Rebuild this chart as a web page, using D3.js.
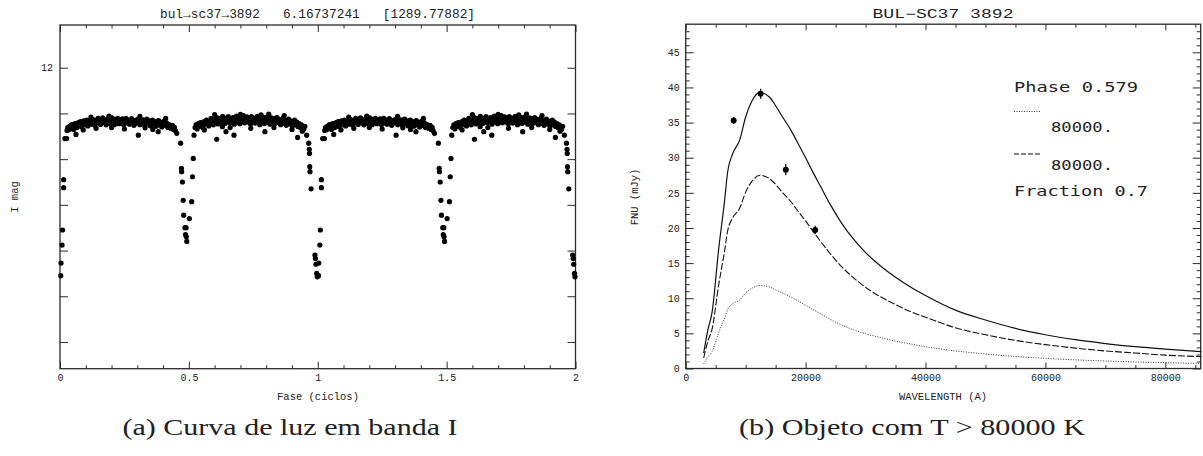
<!DOCTYPE html>
<html><head><meta charset="utf-8">
<script src="https://cdn.jsdelivr.net/npm/d3@7"></script>
<style>
html,body{margin:0;padding:0;background:#fff;}
svg{display:block;}
text{fill:#222;}
</style></head>
<body>
<svg id="c" width="1203" height="456"></svg>
<script>
// ---------- Panel (a): light curve data (one cycle, plotted twice) ----------
const lcTitle = "bul\u2192sc37\u21923892   6.16737241   [1289.77882]";
const lcPhase = [
0.030,0.034,0.038,0.041,0.046,0.050,0.053,0.058,0.062,0.066,0.071,0.074,0.079,0.083,0.087,0.092,0.095,0.100,0.104,0.108,
0.112,0.117,0.121,0.126,0.130,0.134,0.139,0.143,0.148,0.152,0.157,0.161,0.166,0.170,0.175,0.179,0.184,0.188,0.193,0.197,
0.202,0.206,0.211,0.215,0.220,0.224,0.229,0.233,0.238,0.242,0.247,0.251,0.256,0.260,0.265,0.269,0.274,0.278,0.283,0.287,
0.292,0.296,0.301,0.305,0.310,0.314,0.319,0.323,0.328,0.332,0.337,0.341,0.346,0.350,0.355,0.359,0.364,0.368,0.373,0.377,
0.382,0.386,0.391,0.395,0.400,0.404,0.409,0.413,0.418,0.422,0.427,0.431,0.436,0.440,0.444,0.448,
0.026,0.062,0.304,0.381,
0.090,0.140,0.190,0.250,0.310,0.360,0.410,0.200,0.120,0.330,
0.524,0.528,0.532,0.536,0.541,0.545,0.550,0.554,0.559,0.563,0.568,0.572,0.577,0.581,0.586,0.590,0.595,0.599,0.604,0.608,
0.613,0.617,0.622,0.626,0.631,0.635,0.640,0.644,0.649,0.653,0.658,0.662,0.667,0.671,0.676,0.680,0.685,0.689,0.694,0.698,
0.703,0.707,0.712,0.716,0.721,0.725,0.730,0.734,0.739,0.743,0.748,0.752,0.757,0.761,0.766,0.770,0.775,0.779,0.784,0.788,
0.793,0.797,0.802,0.806,0.811,0.815,0.820,0.824,0.829,0.833,0.838,0.842,0.847,0.851,0.856,0.860,0.865,0.869,0.874,0.878,
0.883,0.887,0.892,0.896,0.901,0.905,0.910,0.914,0.919,0.923,0.928,0.932,0.937,0.941,0.946,0.950,
0.608,0.644,0.675,0.795,0.922,
0.560,0.600,0.660,0.700,0.740,0.780,0.830,0.870,0.900,0.940,0.630,0.810,
0.453,0.468,0.471,0.472,0.475,0.478,0.480,0.485,0.489,0.487,0.490,0.492,0.502,0.511,0.514,0.517,0.520,
0.957,0.965,0.967,0.968,0.969,0.970,0.974,0.989,0.991,0.993,0.996,0.998,
0.003,0.004,0.008,0.010,0.014,0.014,0.019,0.027
];
const lcMag = [
12.262,12.271,12.255,12.266,12.249,12.258,12.270,12.244,12.253,12.262,12.240,12.251,12.236,12.258,12.245,12.232,12.249,12.240,12.229,12.255,
12.243,12.233,12.247,12.226,12.238,12.251,12.229,12.242,12.222,12.236,12.248,12.231,12.219,12.240,12.228,12.250,12.233,12.224,12.244,12.230,
12.219,12.238,12.249,12.226,12.236,12.221,12.245,12.230,12.239,12.224,12.250,12.233,12.221,12.241,12.229,12.247,12.236,12.223,12.240,12.252,
12.231,12.242,12.226,12.238,12.249,12.232,12.243,12.228,12.251,12.237,12.225,12.245,12.232,12.254,12.240,12.229,12.247,12.236,12.256,12.243,
12.231,12.250,12.238,12.259,12.245,12.234,12.252,12.241,12.262,12.248,12.256,12.266,12.252,12.270,12.261,12.276,
12.310,12.292,12.295,12.280,
12.272,12.265,12.212,12.268,12.213,12.270,12.222,12.262,12.216,12.263,
12.262,12.250,12.268,12.245,12.256,12.240,12.251,12.262,12.236,12.247,12.229,12.243,12.255,12.233,12.221,12.240,12.250,12.228,12.238,12.218,
12.246,12.232,12.221,12.240,12.213,12.229,12.244,12.222,12.235,12.214,12.241,12.227,12.236,12.218,12.247,12.230,12.212,12.238,12.224,12.245,
12.219,12.233,12.210,12.241,12.226,12.215,12.237,12.222,12.246,12.214,12.231,12.220,12.242,12.226,12.213,12.236,12.249,12.221,12.232,12.217,
12.244,12.228,12.216,12.238,12.225,12.247,12.219,12.234,12.222,12.245,12.230,12.218,12.240,12.227,12.249,12.233,12.221,12.243,12.230,12.252,
12.236,12.225,12.246,12.234,12.255,12.240,12.229,12.250,12.238,12.257,12.244,12.262,12.250,12.258,12.268,12.256,
12.313,12.280,12.295,12.280,12.305,
12.272,12.205,12.262,12.204,12.265,12.206,12.262,12.209,12.270,12.278,12.258,12.203,
12.287,12.330,12.440,12.455,12.500,12.580,12.645,12.700,12.700,12.730,12.740,12.760,12.660,12.586,12.477,12.397,12.295,
12.295,12.330,12.357,12.375,12.433,12.455,12.530,12.820,12.835,12.860,12.900,12.915,
12.910,12.855,12.776,12.710,12.525,12.490,12.310,12.275
];
const lcXTicks = [0, 0.5, 1, 1.5, 2];
const lcXTickLabels = ["0", "0.5", "1", "1.5", "2"];
const lcYTicks = [12.0, 12.2, 12.4, 12.6, 12.8, 13.0, 13.2];
const lcYTickLabels = ["12", "", "", "", "", "", ""];

// ---------- Panel (b): SED data ----------
const sedTitle = "BUL\u2212SC37 3892";
const sedWave = [3000,3700,4400,5500,6500,7000,7800,9000,10000,11000,12400,14000,15000,16000,17500,19000,20000,21000,22500,24000,
26000,28000,30000,32500,35000,37500,40000,45000,50000,55000,60000,65000,70000,75000,80000,86000];
const sedTotal = [2.2,5.5,8.0,17.0,24.0,28.0,30.5,32.5,35.8,38.0,39.3,38.6,37.4,36.0,34.0,31.6,30.0,28.3,25.9,23.5,
20.7,18.4,16.5,14.6,13.0,11.6,10.4,8.3,6.9,5.7,4.8,4.1,3.55,3.1,2.75,2.4];
const sedDashed = [1.5,3.9,5.6,11.9,16.8,19.6,21.4,22.8,25.1,26.6,27.5,27.0,26.2,25.2,23.8,22.1,21.0,19.8,18.1,16.45,
14.5,12.9,11.55,10.2,9.1,8.1,7.3,5.8,4.8,4.0,3.4,2.9,2.5,2.2,1.9,1.7];
const sedDotted = [0.65,1.65,2.4,5.1,7.2,8.4,9.2,9.75,10.75,11.4,11.8,11.6,11.2,10.8,10.2,9.5,9.0,8.5,7.8,7.05,
6.2,5.5,4.95,4.4,3.9,3.5,3.1,2.5,2.07,1.71,1.44,1.23,1.07,0.93,0.83,0.72];
const obsWave = [8000, 12500, 16700, 21600];
const obsFlux = [35.3, 39.1, 28.3, 19.7];
const obsErr  = [0.5, 0.7, 0.8, 0.6];
const sedXTicks = [0, 20000, 40000, 60000, 80000];
const sedYTicks = [0, 5, 10, 15, 20, 25, 30, 35, 40, 45];
const legendLines = ["Phase 0.579", "80000.", "80000.", "Fraction 0.7"];

const captions = ["(a) Curva de luz em banda I", "(b) Objeto com T > 80000 K"];

// ---------- drawing ----------
const svg = d3.select("#c");
const INK = "#2a2a2a";
const tickFont = "'Liberation Mono', monospace";

function styleAxis(g){
  g.select(".domain").remove();
  g.selectAll(".tick line").attr("stroke", INK).attr("stroke-width", 1);
  g.selectAll(".tick text").attr("font-family", tickFont).attr("font-size", 10).attr("fill", "#222");
}

// Panel (a)
const xL = d3.scaleLinear().domain([0, 2]).range([60, 575.5]);
const yL = d3.scaleLinear().domain([11.813, 13.317]).range([25, 368.7]);
const gA = svg.append("g");
const minorL = d3.range(1, 20).map(i => i / 10).filter(v => Math.abs(v*2 - Math.round(v*2)) > 1e-6);

gA.append("g").attr("transform", `translate(0,${yL.range()[1]})`)
  .call(d3.axisBottom(xL).tickValues(lcXTicks).tickSize(-7).tickPadding(5)
    .tickFormat((d, i) => lcXTickLabels[i])).call(styleAxis);
gA.append("g").attr("transform", `translate(0,${yL.range()[1]})`)
  .call(d3.axisBottom(xL).tickValues(minorL).tickSize(-3.5).tickFormat("")).call(styleAxis);
gA.append("g").attr("transform", `translate(0,${yL.range()[0]})`)
  .call(d3.axisTop(xL).tickValues(lcXTicks).tickSize(-7).tickFormat("")).call(styleAxis);
gA.append("g").attr("transform", `translate(0,${yL.range()[0]})`)
  .call(d3.axisTop(xL).tickValues(minorL).tickSize(-3.5).tickFormat("")).call(styleAxis);
gA.append("g").attr("transform", `translate(${xL.range()[0]},0)`)
  .call(d3.axisLeft(yL).tickValues(lcYTicks).tickSize(-8).tickPadding(7)
    .tickFormat((d, i) => lcYTickLabels[i])).call(styleAxis);
gA.append("g").attr("transform", `translate(${xL.range()[1]},0)`)
  .call(d3.axisRight(yL).tickValues(lcYTicks).tickSize(-8).tickFormat("")).call(styleAxis);

gA.append("rect").attr("x", xL.range()[0]).attr("y", yL.range()[0])
  .attr("width", xL.range()[1] - xL.range()[0]).attr("height", yL.range()[1] - yL.range()[0])
  .attr("fill", "none").attr("stroke", INK).attr("stroke-width", 1.3);

const lcPts = [];
lcPhase.forEach((p, i) => { lcPts.push([p, lcMag[i]]); lcPts.push([p + 1, lcMag[i]]); });
gA.append("g").selectAll("circle").data(lcPts).join("circle")
  .attr("cx", d => xL(d[0])).attr("cy", d => yL(d[1])).attr("r", 2.6).attr("fill", "#000");

gA.append("text").attr("x", 317.5).attr("y", 18).attr("text-anchor", "middle")
  .attr("font-family", tickFont).attr("font-size", 12).attr("textLength", 315)
  .attr("lengthAdjust", "spacingAndGlyphs").attr("xml:space", "preserve").text(lcTitle);
gA.append("text").attr("x", 318).attr("y", 400).attr("text-anchor", "middle")
  .attr("font-family", tickFont).attr("font-size", 10.5).text("Fase (ciclos)");
gA.append("text").attr("transform", "translate(18,197) rotate(-90)").attr("text-anchor", "middle")
  .attr("font-family", tickFont).attr("font-size", 10.5).text("I mag");

// Panel (b)
const xR = d3.scaleLinear().domain([0, 85900]).range([685.7, 1200.7]);
const yR = d3.scaleLinear().domain([0, 49]).range([368.5, 24.2]);
const gB = svg.append("g");
const minorXR = d3.range(5000, 86000, 5000).filter(v => v % 20000 !== 0);
const minorYR = d3.range(1, 49).filter(v => v % 5 !== 0);

gB.append("g").attr("transform", `translate(0,${yR.range()[0]})`)
  .call(d3.axisBottom(xR).tickValues(sedXTicks).tickSize(-6).tickPadding(5).tickFormat(d3.format("d"))).call(styleAxis);
gB.append("g").attr("transform", `translate(0,${yR.range()[0]})`)
  .call(d3.axisBottom(xR).tickValues(minorXR).tickSize(-3.5).tickFormat("")).call(styleAxis);
gB.append("g").attr("transform", `translate(0,${yR.range()[1]})`)
  .call(d3.axisTop(xR).tickValues(sedXTicks).tickSize(-6).tickFormat("")).call(styleAxis);
gB.append("g").attr("transform", `translate(0,${yR.range()[1]})`)
  .call(d3.axisTop(xR).tickValues(minorXR).tickSize(-3.5).tickFormat("")).call(styleAxis);
gB.append("g").attr("transform", `translate(${xR.range()[0]},0)`)
  .call(d3.axisLeft(yR).tickValues(sedYTicks).tickSize(-8).tickPadding(6).tickFormat(d3.format("d"))).call(styleAxis);
gB.append("g").attr("transform", `translate(${xR.range()[0]},0)`)
  .call(d3.axisLeft(yR).tickValues(minorYR).tickSize(-4).tickFormat("")).call(styleAxis);
gB.append("g").attr("transform", `translate(${xR.range()[1]},0)`)
  .call(d3.axisRight(yR).tickValues(sedYTicks).tickSize(-8).tickFormat("")).call(styleAxis);
gB.append("g").attr("transform", `translate(${xR.range()[1]},0)`)
  .call(d3.axisRight(yR).tickValues(minorYR).tickSize(-4).tickFormat("")).call(styleAxis);

gB.append("rect").attr("x", xR.range()[0]).attr("y", yR.range()[1])
  .attr("width", xR.range()[1] - xR.range()[0]).attr("height", yR.range()[0] - yR.range()[1])
  .attr("fill", "none").attr("stroke", INK).attr("stroke-width", 1.3);

const line = d3.line().curve(d3.curveMonotoneX).x(d => xR(d[0])).y(d => yR(d[1]));
gB.append("path").datum(sedWave.map((w, i) => [w, sedTotal[i]])).attr("d", line)
  .attr("fill", "none").attr("stroke", "#111").attr("stroke-width", 1.2);
gB.append("path").datum(sedWave.map((w, i) => [w, sedDashed[i]])).attr("d", line)
  .attr("fill", "none").attr("stroke", "#111").attr("stroke-width", 1.1).attr("stroke-dasharray", "7,2");
gB.append("path").datum(sedWave.map((w, i) => [w, sedDotted[i]])).attr("d", line)
  .attr("fill", "none").attr("stroke", "#333").attr("stroke-width", 1).attr("stroke-dasharray", "1,1.5");

const obs = obsWave.map((w, i) => ({w, f: obsFlux[i], e: obsErr[i]}));
gB.append("g").selectAll("line").data(obs).join("line")
  .attr("x1", d => xR(d.w)).attr("x2", d => xR(d.w))
  .attr("y1", d => yR(d.f - d.e)).attr("y2", d => yR(d.f + d.e))
  .attr("stroke", "#000").attr("stroke-width", 1.2);
gB.append("g").selectAll("circle").data(obs).join("circle")
  .attr("cx", d => xR(d.w)).attr("cy", d => yR(d.f)).attr("r", 3).attr("fill", "#000");

// legend
const legFont = "'DejaVu Sans Mono', monospace";
gB.append("text").attr("x", 1014).attr("y", 92).attr("font-family", legFont).attr("font-size", 14)
  .attr("textLength", 124).attr("lengthAdjust", "spacingAndGlyphs").attr("xml:space", "preserve").text(legendLines[0]);
gB.append("line").attr("x1", 1014).attr("x2", 1040).attr("y1", 111.5).attr("y2", 111.5)
  .attr("stroke", "#333").attr("stroke-dasharray", "1,1.5");
gB.append("text").attr("x", 1051).attr("y", 132).attr("font-family", legFont).attr("font-size", 14)
  .attr("textLength", 62).attr("lengthAdjust", "spacingAndGlyphs").text(legendLines[1]);
gB.append("line").attr("x1", 1014).attr("x2", 1040).attr("y1", 154).attr("y2", 154)
  .attr("stroke", "#111").attr("stroke-dasharray", "5,2");
gB.append("text").attr("x", 1051).attr("y", 170).attr("font-family", legFont).attr("font-size", 14)
  .attr("textLength", 62).attr("lengthAdjust", "spacingAndGlyphs").text(legendLines[2]);
gB.append("text").attr("x", 1014).attr("y", 196).attr("font-family", legFont).attr("font-size", 14)
  .attr("textLength", 134).attr("lengthAdjust", "spacingAndGlyphs").attr("xml:space", "preserve").text(legendLines[3]);

gB.append("text").attr("x", 943).attr("y", 18).attr("text-anchor", "middle")
  .attr("font-family", tickFont).attr("font-size", 12).attr("textLength", 141)
  .attr("lengthAdjust", "spacingAndGlyphs").text(sedTitle);
gB.append("text").attr("x", 943).attr("y", 400).attr("text-anchor", "middle")
  .attr("font-family", tickFont).attr("font-size", 10.5).text("WAVELENGTH (A)");
gB.append("text").attr("transform", "translate(638,197) rotate(-90)").attr("text-anchor", "middle")
  .attr("font-family", tickFont).attr("font-size", 10.5).text("FNU (mJy)");

// captions
svg.append("text").attr("x", 290).attr("y", 435).attr("text-anchor", "middle")
  .attr("font-family", "'Liberation Serif', serif").attr("font-size", 24).attr("fill", "#111")
  .attr("textLength", 335).attr("lengthAdjust", "spacingAndGlyphs").text(captions[0]);
svg.append("text").attr("x", 912).attr("y", 435).attr("text-anchor", "middle")
  .attr("font-family", "'Liberation Serif', serif").attr("font-size", 24).attr("fill", "#111")
  .attr("textLength", 346).attr("lengthAdjust", "spacingAndGlyphs").text(captions[1]);
</script>
</body></html>
